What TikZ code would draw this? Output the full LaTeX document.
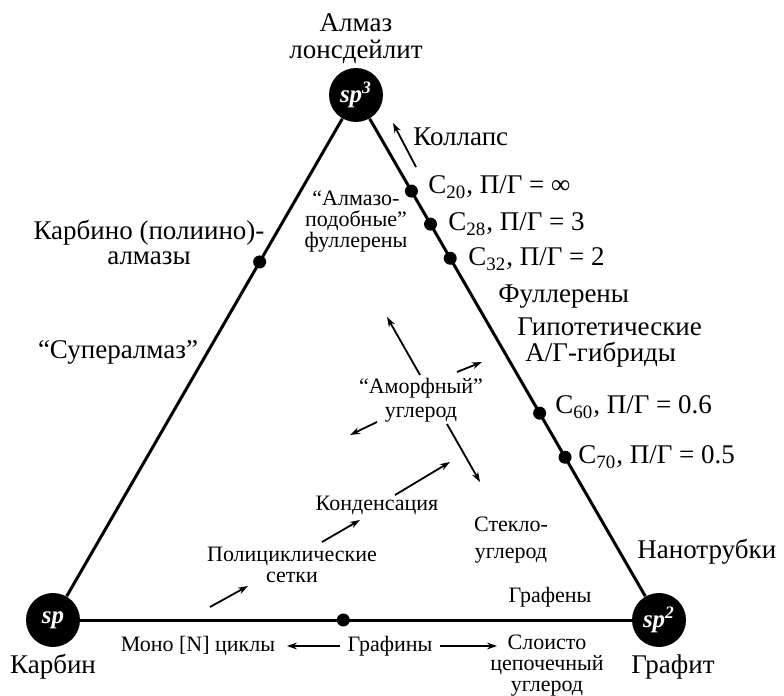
\documentclass[tikz,border=0pt]{standalone}
\usepackage{fontspec}
\setmainfont{Liberation Serif}
\usetikzlibrary{arrows.meta}
\tikzstyle{vertex} = [circle, fill=black, text=white, minimum size=27pt, inner sep=0pt, font=\fontsize{12.5}{12.5}\selectfont\bfseries\itshape]
\tikzstyle{dot} = [circle, fill=black, minimum size=6.5pt, inner sep=0pt]
\tikzstyle{big} = [align=center, font=\fontsize{13.5}{12.5}\selectfont, inner sep=1pt]
\tikzstyle{small} = [align=center, font=\fontsize{11}{10.5}\selectfont, inner sep=1pt]
\tikzstyle{edge} = [line width=1.5pt]
\tikzstyle{arrow} = [line width=0.9pt,->,>={Stealth[length=5pt,width=3.4pt]}]

\begin{document}
\begin{tikzpicture}[x=0.5pt, y=-0.5pt]
    \useasboundingbox (0,0) rectangle (784,696);

    % corners of the triangle
    \node (sp3) [vertex] at (356,95) {sp\textsuperscript{3}};
    \node (sp) [vertex] at (53,620) {sp};
    \node (sp2) [vertex] at (659,620) {sp\textsuperscript{2}};

    \draw [edge] (sp3) -- (sp);
    \draw [edge] (sp3) -- (sp2);
    \draw [edge] (sp) -- (sp2);

    % points on the edges
    \path (sp3.center) -- (sp2.center)
        node (c20) [dot, pos=0.183] {}
        node (c28) [dot, pos=0.246] {}
        node (c32) [dot, pos=0.311] {}
        node (c60) [dot, pos=0.606] {}
        node (c70) [dot, pos=0.690] {};
    \path (sp3.center) -- (sp.center) node (cpol) [dot, pos=0.318] {};
    \path (sp.center) -- (sp2.center) node (cgraf) [dot, pos=0.479] {};

    % labels
    \node (almaz) [big] at (356,39) {Алмаз\\[1pt]лонсдейлит};
    \node (kollaps) [big, anchor=west] at (411,137) {Коллапс};
    \node (l20) [big, anchor=west] at (426,187) {C\textsubscript{20}, П/Г = ∞};
    \node (l28) [big, anchor=west] at (446,224) {C\textsubscript{28}, П/Г = 3};
    \node (l32) [big, anchor=west] at (466,259) {C\textsubscript{32}, П/Г = 2};
    \node (fuller) [big, anchor=west] at (496,297) {Фуллерены};
    \node (gipot) [big, anchor=west] at (515,327) {Гипотетические};
    \node (gibrid) [big, anchor=west] at (523,355) {А/Г-гибриды};
    \node (l60) [big, anchor=west] at (553,407) {C\textsubscript{60}, П/Г = 0.6};
    \node (l70) [big, anchor=west] at (576,457) {C\textsubscript{70}, П/Г = 0.5};
    \node (nanotr) [big, anchor=west] at (635,552) {Нанотрубки};
    \node (karbalm) [big] at (149,242) {Карбино (полиино)-\\алмазы};
    \node (superalm) [big] at (118,352) {“Супералмаз”};
    \node (karbin) [big] at (53,667) {Карбин};
    \node (grafit) [big] at (673,667) {Графит};

    \node (almful) [small] at (356,222) {“Алмазо-\\подобные”\\фуллерены};
    \node (amorf) [small] at (421,400) {“Аморфный”\\[1.5pt]углерод};
    \node (kondens) [small] at (377,505) {Конденсация};
    \node (polic) [small] at (292,565) {Полициклические\\сетки};
    \node (steklo) [small] at (511,540) {Стекло-\\[3pt]углерод};
    \node (grafeny) [small] at (550,597) {Графены};
    \node (mono) [small] at (198,646) {Моно [N] циклы};
    \node (grafiny) [small] at (390,646) {Графины};
    \node (sloisto) [small, inner sep=0pt] at (547,666) {Слоисто\\цепочечный\\углерод};

    % arrow ends
    \coordinate (kolA) at (416,167);
    \coordinate (kolB) at (393,123);
    \coordinate (amUL) at (387,317);
    \coordinate (amUR) at (482,362);
    \coordinate (amDL) at (350,435);
    \coordinate (amDR) at (480,482);
    \coordinate (konA) at (395,495);
    \coordinate (konB) at (450,462);
    \coordinate (polA) at (322,542);
    \coordinate (polB) at (360,520);
    \coordinate (setA) at (210,607);
    \coordinate (setB) at (248,586);
    \coordinate (monB) at (287,646);
    \coordinate (sloB) at (497,646);

    \draw [arrow] (kolA) -- (kolB);
    \draw [arrow] (420,375) -- (amUL);
    \draw [arrow] (457,372) -- (amUR);
    \draw [arrow] (377,422) -- (amDL);
    \draw [arrow] (447,424) -- (amDR);
    \draw [arrow] (konA) -- (konB);
    \draw [arrow] (polA) -- (polB);
    \draw [arrow] (setA) -- (setB);
    \draw [arrow] (grafiny.west) ++(-5,0) -- (monB);
    \draw [arrow] (grafiny.east) ++(5,0) -- (sloB);

\end{tikzpicture}
\end{document}
